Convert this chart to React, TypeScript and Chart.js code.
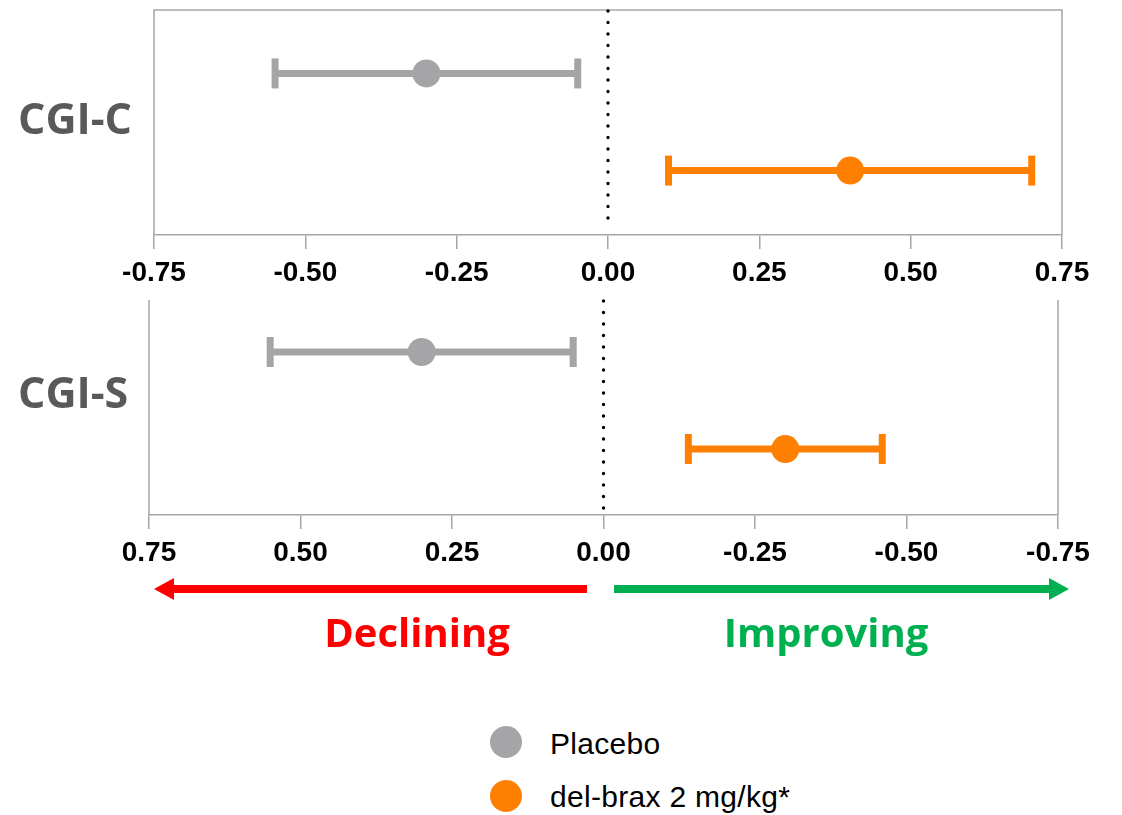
import React, { useEffect, useRef } from "react";
import { Chart, registerables } from "chart.js";

Chart.register(...registerables);

// ---------- data ----------
const seriesNames = ["Placebo", "del-brax 2 mg/kg*"];
const seriesColors = ["#A5A5A8", "#FF8000"];
const panelLabels = ["CGI-C", "CGI-S"];
const xTicks = [-0.75, -0.5, -0.25, 0, 0.25, 0.5, 0.75];

// CGI-C (placebo, del-brax)
const cgiCMean = [-0.3, 0.4];
const cgiCLow = [-0.55, 0.1];
const cgiCHigh = [-0.05, 0.7];

// CGI-S (placebo, del-brax) — axis is reversed
const cgiSMean = [0.3, -0.3];
const cgiSLow = [0.55, -0.14];
const cgiSHigh = [0.05, -0.46];

const directionLabels = ["Declining", "Improving"];
const directionColors = ["#FF0000", "#00B050"];

// ---------- styling ----------
const AXIS_GRAY = "#A6A6A6";
const TICK_FONT = "'Liberation Sans', Arial, sans-serif";

type PanelProps = {
  top: number;
  height: number;
  means: number[];
  lows: number[];
  highs: number[];
  reverse: boolean;
  boxTop: boolean;
  padding: { left: number; right: number; top: number; bottom: number };
  yMin: number;
  yMax: number;
};

function makeDecor(boxTop: boolean) {
  return {
    id: "panelDecor",
    beforeDatasetsDraw(chart: any) {
      const { ctx, chartArea: a, scales } = chart;
      ctx.save();
      ctx.strokeStyle = AXIS_GRAY;
      ctx.lineWidth = 1.5;
      ctx.beginPath();
      if (boxTop) {
        ctx.moveTo(a.left, a.bottom);
        ctx.lineTo(a.left, a.top);
        ctx.lineTo(a.right, a.top);
        ctx.lineTo(a.right, a.bottom);
      } else {
        ctx.moveTo(a.left, a.top);
        ctx.lineTo(a.left, a.bottom);
        ctx.moveTo(a.right, a.top);
        ctx.lineTo(a.right, a.bottom);
      }
      ctx.stroke();
      // dotted zero line
      const x0 = scales.x.getPixelForValue(0);
      ctx.strokeStyle = "#000";
      ctx.lineWidth = 3.4;
      ctx.lineCap = "round";
      ctx.setLineDash([0, 11.5]);
      ctx.beginPath();
      ctx.moveTo(x0, a.top + 1);
      ctx.lineTo(x0, a.bottom - 6);
      ctx.stroke();
      ctx.restore();
    },
  };
}

function Panel(p: PanelProps) {
  const ref = useRef<HTMLCanvasElement | null>(null);
  useEffect(() => {
    if (!ref.current) return;
    const datasets: any[] = [];
    seriesNames.forEach((name, i) => {
      datasets.push({
        label: name,
        data: [{ x: p.means[i], y: i }],
        backgroundColor: seriesColors[i],
        borderWidth: 0,
        pointRadius: 14,
        pointHoverRadius: 14,
        order: 0,
      });
      datasets.push({
        label: name + " CI",
        data: [
          { x: p.lows[i], y: i },
          { x: p.highs[i], y: i },
        ],
        showLine: true,
        borderColor: seriesColors[i],
        borderWidth: 7,
        pointStyle: "line",
        pointRotation: 90,
        pointRadius: 15,
        pointHoverRadius: 15,
        pointBorderWidth: 7,
        pointHoverBorderWidth: 7,
        pointBorderColor: seriesColors[i],
        order: 1,
      });
    });
    const chart = new Chart(ref.current, {
      type: "scatter",
      data: { datasets },
      options: {
        responsive: false,
        animation: false,
        events: [],
        layout: { padding: p.padding },
        plugins: { legend: { display: false }, tooltip: { enabled: false } },
        scales: {
          x: {
            type: "linear",
            min: -0.75,
            max: 0.75,
            reverse: p.reverse,
            afterBuildTicks: (s: any) => {
              s.ticks = xTicks.map((v) => ({ value: v }));
            },
            afterFit: (s: any) => {
              s.height = 50;
            },
            ticks: {
              callback: (v: any) => Number(v).toFixed(2),
              font: { family: TICK_FONT, weight: "bold", size: 28 },
              color: "#000",
              padding: 7,
              maxRotation: 0,
              autoSkip: false,
            },
            grid: {
              drawOnChartArea: false,
              drawTicks: true,
              tickLength: 14,
              color: AXIS_GRAY,
              lineWidth: 1.5,
            },
            border: { display: true, color: AXIS_GRAY, width: 1.5 },
          },
          y: {
            type: "linear",
            display: false,
            min: p.yMin,
            max: p.yMax,
            reverse: true,
          },
        },
      },
      plugins: [makeDecor(p.boxTop)],
    } as any);
    return () => chart.destroy();
  }, []);
  return (
    <canvas
      ref={ref}
      width={1122}
      height={p.height}
      style={{ position: "absolute", left: 0, top: p.top, width: 1122, height: p.height }}
    />
  );
}

const textAt = (
  text: string,
  left: number,
  centerY: number,
  font: string,
  size: number,
  color: string,
  weight: number | string,
  align: "left" | "center" = "left",
  extra: React.CSSProperties = {}
) => {
  const lh = size * 1.4;
  return (
    <div
      style={{
        position: "absolute",
        left: align === "center" ? left - 300 : left,
        width: align === "center" ? 600 : undefined,
        textAlign: align,
        top: centerY - lh / 2,
        lineHeight: lh + "px",
        fontFamily: font,
        fontSize: size,
        fontWeight: weight as any,
        color,
        whiteSpace: "nowrap",
        ...extra,
      }}
    >
      {text}
    </div>
  );
};

export default function App() {
  const catFont = "'Open Sans', 'Noto Sans', sans-serif";
  const legFont = "'Liberation Sans', Arial, sans-serif";
  return (
    <div
      style={{
        position: "absolute",
        left: 0,
        top: 0,
        width: 1122,
        height: 815,
        background: "#fff",
        overflow: "hidden",
      }}
    >
      <Panel
        top={-12}
        height={312}
        means={cgiCMean}
        lows={cgiCLow}
        highs={cgiCHigh}
        reverse={false}
        boxTop={true}
        padding={{ left: 154, right: 60, top: 8, bottom: 15 }}
        yMin={-0.653}
        yMax={1.663}
      />
      <Panel
        top={278}
        height={312}
        means={cgiSMean}
        lows={cgiSLow}
        highs={cgiSHigh}
        reverse={true}
        boxTop={false}
        padding={{ left: 149, right: 64, top: 10, bottom: 25 }}
        yMin={-0.536}
        yMax={1.68}
      />

      {textAt(panelLabels[0], 18, 118, catFont, 43, "#595959", 700)}
      {textAt(panelLabels[1], 18, 392, catFont, 43, "#595959", 700)}

      <svg
        style={{ position: "absolute", left: 0, top: 570 }}
        width={1122}
        height={40}
      >
        <line x1={172} y1={19} x2={587} y2={19} stroke={directionColors[0]} strokeWidth={8} />
        <polygon points="154,19 174,8 174,30" fill={directionColors[0]} />
        <line x1={614} y1={19} x2={1050} y2={19} stroke={directionColors[1]} strokeWidth={8} />
        <polygon points="1069,19 1049,8 1049,30" fill={directionColors[1]} />
      </svg>

      {textAt(directionLabels[0], 417, 632, catFont, 40, directionColors[0], 700, "center")}
      {textAt(directionLabels[1], 826, 632, catFont, 40, directionColors[1], 700, "center")}

      {seriesNames.map((name, i) => (
        <React.Fragment key={name}>
          <div
            style={{
              position: "absolute",
              left: 506 - 16,
              top: [742, 796][i] - 16,
              width: 32,
              height: 32,
              borderRadius: "50%",
              background: seriesColors[i],
            }}
          />
          {textAt(name, 550, [744, 797][i], legFont, 30, "#000", 400, "left", { letterSpacing: "0.3px" })}
        </React.Fragment>
      ))}
    </div>
  );
}
